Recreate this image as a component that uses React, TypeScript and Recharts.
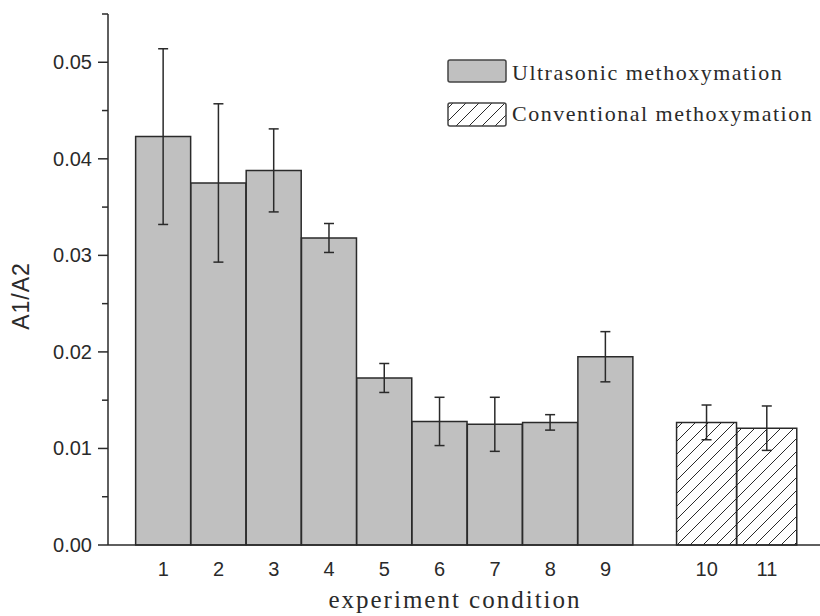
import { BarChart, Bar, XAxis, YAxis, ErrorBar, Legend, Label, Rectangle } from 'recharts'

const conditions = ['1', '2', '3', '4', '5', '6', '7', '8', '9', '10', '11']
const ratio = [0.0423, 0.0375, 0.0388, 0.0318, 0.0173, 0.0128, 0.0125, 0.0127, 0.0195, 0.0127, 0.0121]
const ratioErr = [0.0091, 0.0082, 0.0043, 0.0015, 0.0015, 0.0025, 0.0028, 0.0008, 0.0026, 0.0018, 0.0023]
const method = ['ultrasonic', 'ultrasonic', 'ultrasonic', 'ultrasonic', 'ultrasonic', 'ultrasonic', 'ultrasonic', 'ultrasonic', 'ultrasonic', 'conventional', 'conventional']
const methodNames = ['Ultrasonic methoxymation', 'Conventional methoxymation']
const yTicks = [0, 0.005, 0.01, 0.015, 0.02, 0.025, 0.03, 0.035, 0.04, 0.045, 0.05, 0.055]

// conventional bars sit a little apart and are slightly wider in the original figure
const GAP_START = 10.83
const CONV_STEP = 1.09
const xPos = (i: number) => (i < 9 ? i + 1 : GAP_START + (i - 9) * CONV_STEP)

const data = conditions.map((c, i) => ({
  label: c,
  pos: xPos(i),
  value: ratio[i],
  err: ratioErr[i],
  method: method[i],
}))

const GRAY = '#c0c0c0'
const INK = '#2a2a2a'
const SANS = '"Liberation Sans", Arial, sans-serif'
const SERIF = '"Liberation Serif", "Times New Roman", serif'

function BarShape(props: any) {
  const { x, y, width, height, payload } = props
  const conv = payload.method === 'conventional'
  const w = conv ? width * CONV_STEP : width
  const nx = x + width / 2 - w / 2
  return (
    <Rectangle x={nx} y={y} width={w} height={height}
      fill={conv ? 'url(#hatch)' : GRAY} stroke={INK} strokeWidth={1.5} />
  )
}

function YTick(props: any) {
  const { x, y, payload } = props
  const v = payload.value as number
  const major = Math.abs(Math.round(v * 100) - v * 100) < 1e-6
  const axisX = x + 16
  return (
    <g>
      <line x1={major ? axisX - 10 : axisX - 6} x2={axisX} y1={y} y2={y} stroke={INK} strokeWidth={1.5} />
      {major && (
        <text x={x} y={y} textAnchor="end" dominantBaseline="central" fontFamily={SANS} fontSize={20} fill={INK}>
          {v.toFixed(2)}
        </text>
      )}
    </g>
  )
}

function LegendBox() {
  return (
    <svg width={372} height={75} style={{ display: 'block' }}>
      <defs>
        <pattern id="hatchLegend" patternUnits="userSpaceOnUse" width={13} height={13}>
          <rect width={13} height={13} fill="#fff" />
          <path d="M0,13 L13,0 M-3,3 L3,-3 M10,16 L16,10" stroke={INK} strokeWidth={1} />
        </pattern>
      </defs>
      <rect x={2} y={2} width={58} height={22} rx={2} fill={GRAY} stroke="#444" strokeWidth={1.5} />
      <text x={66} y={22} fontFamily={SERIF} fontSize={22} letterSpacing={1.5} fill={INK}>{methodNames[0]}</text>
      <rect x={2} y={45} width={58} height={23} rx={2} fill="url(#hatchLegend)" stroke="#444" strokeWidth={1.5} />
      <text x={66} y={63} fontFamily={SERIF} fontSize={22} letterSpacing={1.5} fill={INK}>{methodNames[1]}</text>
    </svg>
  )
}

export default function App() {
  return (
    <div style={{ position: 'absolute', left: 0, top: 0, background: '#fff' }}>
      <BarChart width={820} height={616} data={data} margin={{ top: 14, right: 0, bottom: 0, left: 0 }}>
        <defs>
          <pattern id="hatch" patternUnits="userSpaceOnUse" width={13} height={13}>
            <rect width={13} height={13} fill="#fff" />
            <path d="M0,13 L13,0 M-3,3 L3,-3 M10,16 L16,10" stroke={INK} strokeWidth={1} />
          </pattern>
        </defs>
        <XAxis
          dataKey="pos"
          type="number"
          domain={[0, 12.88]}
          ticks={data.map((d) => d.pos)}
          tickFormatter={(v: number) => data.find((d) => d.pos === v)?.label ?? ''}
          interval={0}
          height={71}
          tickLine={false}
          tickSize={0}
          tickMargin={17}
          axisLine={{ stroke: INK, strokeWidth: 1.5 }}
          tick={{ fontFamily: SANS, fontSize: 20, fill: INK }}
        >
          <Label
            content={() => (
              <text x={455} y={608} textAnchor="middle" fontFamily={SERIF} fontSize={25} letterSpacing={2} fill={INK}>
                experiment condition
              </text>
            )}
          />
        </XAxis>
        <YAxis
          type="number"
          domain={[0, 0.055]}
          ticks={yTicks}
          interval={0}
          width={108}
          tickLine={false}
          tickSize={10}
          tickMargin={6}
          axisLine={{ stroke: INK, strokeWidth: 1.5 }}
          tick={<YTick />}
        >
          <Label
            content={() => (
              <text x={21} y={296} transform="rotate(-90 21 296)" textAnchor="middle" dominantBaseline="central"
                fontFamily={SANS} fontSize={23} letterSpacing={1} fill={INK}>
                A1/A2
              </text>
            )}
          />
        </YAxis>
        <Legend
          layout="vertical"
          align="center"
          verticalAlign="middle"
          content={() => <LegendBox />}
          wrapperStyle={{ top: 58, left: 446, width: 372 }}
        />
        <Bar dataKey="value" barSize={55} shape={<BarShape />} isAnimationActive={false}>
          <ErrorBar dataKey="err" width={5} stroke={INK} strokeWidth={1.5} isAnimationActive={false} />
        </Bar>
      </BarChart>
    </div>
  )
}
